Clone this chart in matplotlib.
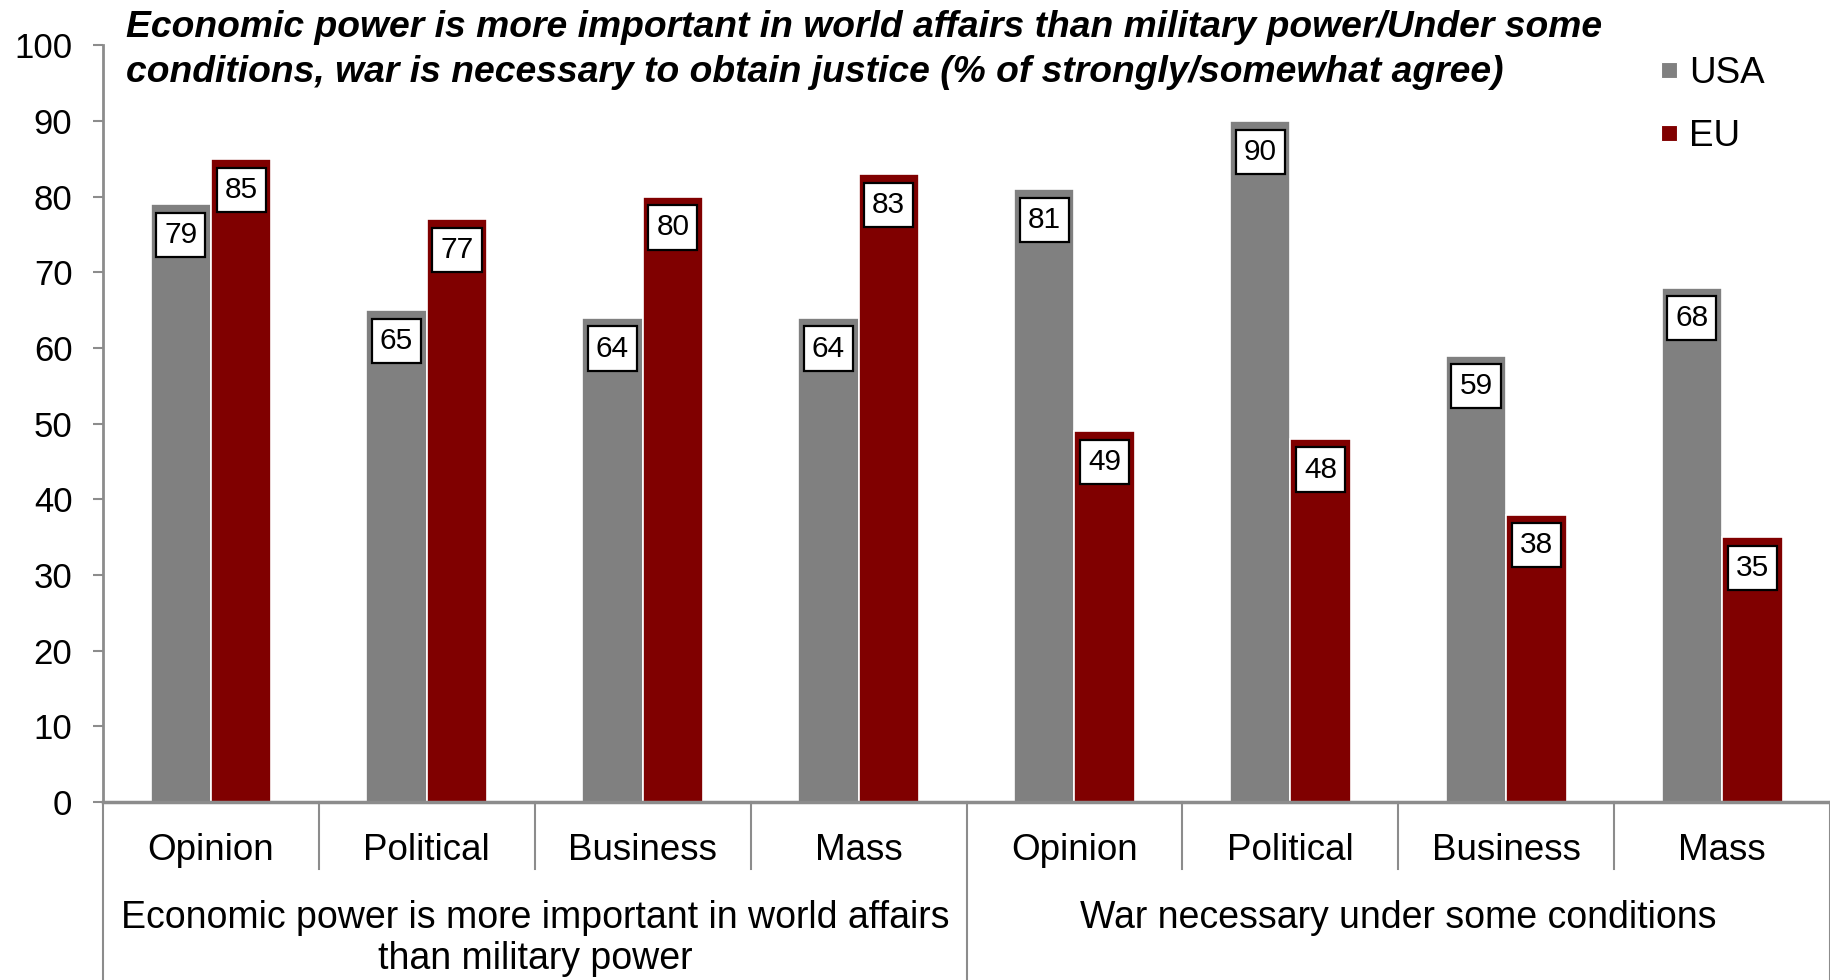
import matplotlib
matplotlib.use("Agg")
import matplotlib.pyplot as plt
from matplotlib.lines import Line2D
import numpy as np

plt.rcParams["font.family"] = ["Liberation Sans", "DejaVu Sans"]

# ── Dados ────────────────────────────────────────────────────────────────────
categorias = ["Opinion", "Political", "Business", "Mass",
              "Opinion", "Political", "Business", "Mass"]
grupos = ["Economic power is more important in world affairs\nthan military power",
          "War necessary under some conditions"]
usa = [79, 65, 64, 64, 81, 90, 59, 68]
eu = [85, 77, 80, 83, 49, 48, 38, 35]
titulo = ("Economic power is more important in world affairs than military power/Under some\n"
          "conditions, war is necessary to obtain justice (% of strongly/somewhat agree)")

COR_USA = "#808080"
COR_EU = "#800000"
EIXO = "#8c8c8c"

fig = plt.figure(figsize=(18.3, 9.8), dpi=100)
ax = fig.add_axes([0.0563, 0.1816, 0.9437, 0.772])

x = np.arange(len(categorias))
largura = 0.28
b_usa = ax.bar(x - largura / 2, usa, largura, color=COR_USA, edgecolor="white", linewidth=1.2)
b_eu = ax.bar(x + largura / 2, eu, largura, color=COR_EU, edgecolor="white", linewidth=1.2)

# rótulos em caixa branca no topo de cada barra
for barras, vals in ((b_usa, usa), (b_eu, eu)):
    for bar, v in zip(barras, vals):
        ax.annotate(f"{v}", (bar.get_x() + bar.get_width() / 2, v),
                    xytext=(0, -12), textcoords="offset points",
                    ha="center", va="top", fontsize=21.5,
                    bbox=dict(boxstyle="square,pad=0.27", fc="white", ec="black", lw=1.6))

ax.set_xlim(-0.5, 7.5)
ax.set_ylim(0, 100)
ax.set_yticks(range(0, 101, 10))
ax.tick_params(axis="y", labelsize=25, length=7, width=1.5, color=EIXO, pad=15)
ax.set_xticks(x)
ax.set_xticklabels(categorias, fontsize=26.5)
ax.tick_params(axis="x", length=0, pad=22)

for lado in ("top", "right"):
    ax.spines[lado].set_visible(False)
ax.spines["left"].set_color(EIXO)
ax.spines["left"].set_linewidth(2)
ax.spines["bottom"].set_color(EIXO)
ax.spines["bottom"].set_linewidth(2.5)

# divisórias do eixo de categorias
trans = ax.get_xaxis_transform()
for i in range(len(categorias) + 1):
    xs = i - 0.5
    fim = -0.235 if i % 4 == 0 else -0.0885
    ax.plot([xs, xs], [0, fim], color=EIXO, lw=1.5, transform=trans, clip_on=False)

for j, g in enumerate(grupos):
    ax.text(1.5 + 4 * j, -0.129, g, transform=trans, ha="center", va="top",
            fontsize=27, linespacing=1.2)

fig.text(0.069, 0.99, titulo, ha="left", va="top", fontsize=26.8,
         fontweight="bold", fontstyle="italic", linespacing=1.38)

handles = [Line2D([], [], marker="s", ls="", color=COR_USA, markersize=12,
                  markeredgecolor="white", markeredgewidth=0.8),
           Line2D([], [], marker="s", ls="", color=COR_EU, markersize=12,
                  markeredgecolor="white", markeredgewidth=0.8)]
fig.legend(handles, ["USA", "EU"], loc="upper left", bbox_to_anchor=(0.888, 0.977),
           frameon=False, fontsize=26.5, handlelength=0.6, handletextpad=0.25,
           labelspacing=0.78)

fig.savefig("out.png", dpi=100)
